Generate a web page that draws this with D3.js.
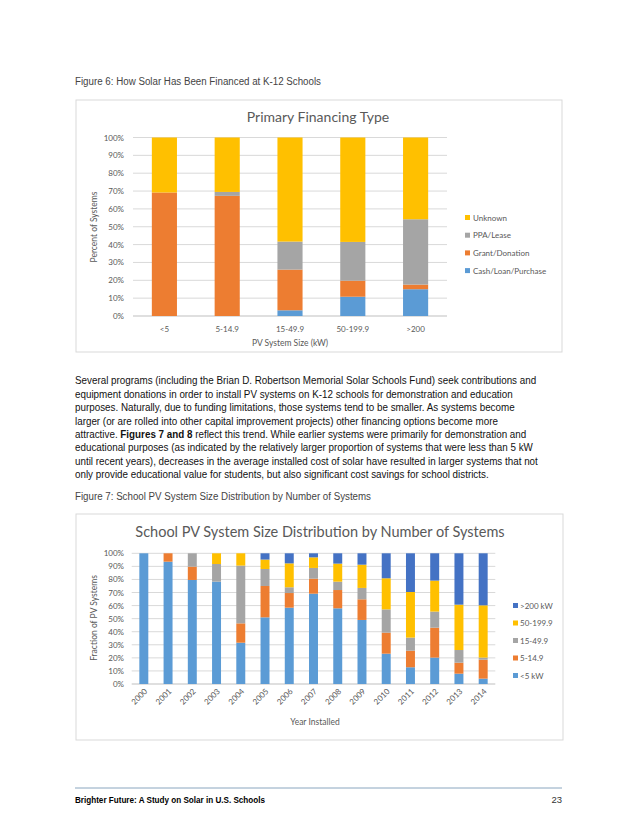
<!DOCTYPE html>
<html><head><meta charset="utf-8">
<script src="https://cdn.jsdelivr.net/npm/d3@7"></script>
<style>body{margin:0;background:#fff}svg{display:block}</style>
</head><body><svg id="page" width="638" height="826"></svg>
<script>
// ---- Figure 6 data ----
const sizeCats = ["<5","5-14.9","15-49.9","50-199.9",">200"];
const finSeries = ["Cash/Loan/Purchase","Grant/Donation","PPA/Lease","Unknown"];
const cashVals = [0, 0, 3.2, 10.8, 15.0];
const grantVals = [69.2, 67.3, 22.8, 9.0, 2.6];
const ppaVals = [0, 2.2, 15.7, 21.7, 36.6];
const unknownVals = [30.8, 30.5, 58.3, 58.5, 45.8];
const pctTicks = [0,10,20,30,40,50,60,70,80,90,100];

// ---- Figure 7 data ----
const years = ["2000","2001","2002","2003","2004","2005","2006","2007","2008","2009","2010","2011","2012","2013","2014"];
const sizeSeries = ["<5 kW","5-14.9","15-49.9","50-199.9",">200 kW"];
const lt5 = [100, 93.6, 79.6, 78.3, 31.6, 51.0, 58.4, 69.1, 57.9, 49.0, 23.2, 12.8, 20.2, 7.9, 4.1];
const s5to15 = [0, 6.4, 10.2, 0, 14.8, 24.0, 11.2, 11.5, 14.0, 15.8, 16.1, 12.7, 22.9, 8.4, 14.5];
const s15to50 = [0, 0, 10.2, 13.5, 44.2, 13.0, 4.4, 8.2, 6.4, 8.7, 17.8, 10.0, 12.3, 9.7, 1.6];
const s50to200 = [0, 0, 0, 8.2, 9.4, 7.2, 18.3, 8.1, 13.8, 17.8, 23.8, 34.9, 23.7, 34.7, 40.0];
const gt200 = [0, 0, 0, 0, 0, 4.8, 7.7, 3.1, 7.9, 8.7, 19.1, 29.6, 20.9, 39.3, 39.8];

const bodyLines = [
 "Several programs (including the Brian D. Robertson Memorial Solar Schools Fund) seek contributions and",
 "equipment donations in order to install PV systems on K-12 schools for demonstration and education",
 "purposes. Naturally, due to funding limitations, those systems tend to be smaller. As systems become",
 "larger (or are rolled into other capital improvement projects) other financing options become more",
 null,
 "educational purposes (as indicated by the relatively larger proportion of systems that were less than 5 kW",
 "until recent years), decreases in the average installed cost of solar have resulted in larger systems that not",
 "only provide educational value for students, but also significant cost savings for school districts."
];

const C = {blue:"#5B9BD5", orange:"#ED7D31", gray:"#A5A5A5", yellow:"#FFC000", dblue:"#4472C4"};
const svg = d3.select("#page");
const chartFont = "Lato, 'Open Sans', sans-serif";
const bodyFont = "'Liberation Sans', Arial, sans-serif";
const textCol = "#595959";

// captions
svg.append("text").attr("x",75).attr("y",85).attr("font-family",bodyFont).attr("font-size",10)
  .attr("fill","#444").attr("textLength",246).attr("lengthAdjust","spacingAndGlyphs")
  .text("Figure 6: How Solar Has Been Financed at K-12 Schools");
svg.append("text").attr("x",75).attr("y",500).attr("font-family",bodyFont).attr("font-size",10)
  .attr("fill","#444").attr("textLength",296).attr("lengthAdjust","spacingAndGlyphs")
  .text("Figure 7: School PV System Size Distribution by Number of Systems");

// body text: uniform horizontal scale so the first line spans ~462px
const body = svg.append("g");
const bodyTexts = [];
bodyLines.forEach((l,i)=>{
  const t = body.append("text").attr("x",0).attr("y",384.5+i*13.4).attr("font-family",bodyFont)
    .attr("font-size",10).attr("fill","#111");
  if(l===null){
    t.append("tspan").text("attractive.  ");
    t.append("tspan").attr("font-weight","bold").text("Figures 7 and 8");
    t.append("tspan").text(" reflect this trend. While earlier systems were primarily for demonstration and");
  } else t.text(l);
  bodyTexts.push(t);
});
const w0 = bodyTexts[0].node().getComputedTextLength();
const sx = w0 > 0 ? 462 / w0 : 1;
body.attr("transform",`translate(75,0) scale(${sx},1)`);

// ---------- Chart 1 ----------
svg.append("rect").attr("x",76).attr("y",100).attr("width",486).attr("height",252)
  .attr("fill","#fff").attr("stroke","#d9d9d9");
const x1 = d3.scaleBand().domain(sizeCats).range([133,447]).paddingInner(0.6).paddingOuter(0.3);
const y1 = d3.scaleLinear().domain([0,100]).range([316,137.5]);
const g1 = svg.append("g");
g1.selectAll("line.grid").data(pctTicks).join("line")
  .attr("x1",133).attr("x2",447).attr("y1",d=>y1(d)).attr("y2",d=>y1(d))
  .attr("stroke",d=>d===0?"#bfbfbf":"#d9d9d9").attr("stroke-width",1);
g1.selectAll("text.yt").data(pctTicks).join("text")
  .attr("x",124).attr("y",d=>y1(d)+3).attr("text-anchor","end").attr("font-family",chartFont)
  .attr("font-size",8).attr("fill",textCol).text(d=>d+"%");
const stack1 = d3.stack().keys(finSeries)(sizeCats.map((c,i)=>({cat:c,
  "Cash/Loan/Purchase":cashVals[i],"Grant/Donation":grantVals[i],"PPA/Lease":ppaVals[i],"Unknown":unknownVals[i]})));
const col1 = [C.blue,C.orange,C.gray,C.yellow];
stack1.forEach((s,si)=>{
  g1.selectAll(null).data(s).join("rect")
    .attr("x",d=>x1(d.data.cat)).attr("width",x1.bandwidth())
    .attr("y",d=>y1(d[1])).attr("height",d=>Math.max(0,y1(d[0])-y1(d[1])))
    .attr("fill",col1[si]);
});
g1.selectAll("text.xt").data(sizeCats).join("text")
  .attr("x",d=>x1(d)+x1.bandwidth()/2).attr("y",332).attr("text-anchor","middle")
  .attr("font-family",chartFont).attr("font-size",8).attr("fill",textCol).text(d=>d);
g1.append("text").attr("x",290).attr("y",346).attr("text-anchor","middle").attr("font-family",chartFont)
  .attr("font-size",8.5).attr("fill",textCol).text("PV System Size (kW)");
g1.append("text").attr("transform","translate(97,227) rotate(-90)").attr("text-anchor","middle")
  .attr("font-family",chartFont).attr("font-size",8.5).attr("fill",textCol).text("Percent of Systems");
g1.append("text").attr("x",318).attr("y",122).attr("text-anchor","middle").attr("font-family",chartFont)
  .attr("font-size",14).attr("fill",textCol).text("Primary Financing Type");
const leg1 = finSeries.slice().reverse();
const legCol1 = col1.slice().reverse();
leg1.forEach((s,i)=>{
  const yy = 218 + i*17.7;
  g1.append("rect").attr("x",465).attr("y",yy-3).attr("width",5).attr("height",5).attr("fill",legCol1[i]);
  g1.append("text").attr("x",473).attr("y",yy+2.5).attr("font-family",chartFont).attr("font-size",8)
    .attr("fill",textCol).text(s);
});

// ---------- Chart 2 ----------
svg.append("rect").attr("x",76).attr("y",514).attr("width",487).attr("height",226)
  .attr("fill","#fff").attr("stroke","#d9d9d9");
const x2 = d3.scaleBand().domain(years).range([131.7,495.3]).paddingInner(0.63).paddingOuter(0.315);
const y2 = d3.scaleLinear().domain([0,100]).range([684,553.3]);
const g2 = svg.append("g");
g2.selectAll("line.grid").data(pctTicks).join("line")
  .attr("x1",131.7).attr("x2",495.3).attr("y1",d=>y2(d)).attr("y2",d=>y2(d))
  .attr("stroke",d=>d===0?"#bfbfbf":"#d9d9d9").attr("stroke-width",1);
g2.selectAll("text.yt").data(pctTicks).join("text")
  .attr("x",124).attr("y",d=>y2(d)+3).attr("text-anchor","end").attr("font-family",chartFont)
  .attr("font-size",8).attr("fill",textCol).text(d=>d+"%");
const stack2 = d3.stack().keys(sizeSeries)(years.map((yr,i)=>({yr,
  "<5 kW":lt5[i],"5-14.9":s5to15[i],"15-49.9":s15to50[i],"50-199.9":s50to200[i],">200 kW":gt200[i]})));
const col2 = [C.blue,C.orange,C.gray,C.yellow,C.dblue];
stack2.forEach((s,si)=>{
  g2.selectAll(null).data(s).join("rect")
    .attr("x",d=>x2(d.data.yr)).attr("width",x2.bandwidth())
    .attr("y",d=>y2(d[1])).attr("height",d=>Math.max(0,y2(d[0])-y2(d[1])))
    .attr("fill",col2[si]);
});
g2.selectAll("text.xt").data(years).join("text")
  .attr("transform",d=>`translate(${x2(d)+x2.bandwidth()/2+4},${692}) rotate(-45)`)
  .attr("text-anchor","end").attr("font-family",chartFont).attr("font-size",8).attr("fill",textCol).text(d=>d);
g2.append("text").attr("x",315).attr("y",725).attr("text-anchor","middle").attr("font-family",chartFont)
  .attr("font-size",8.5).attr("fill",textCol).text("Year Installed");
g2.append("text").attr("transform","translate(97,618) rotate(-90)").attr("text-anchor","middle")
  .attr("font-family",chartFont).attr("font-size",8.5).attr("fill",textCol).text("Fraction of PV Systems");
g2.append("text").attr("x",320).attr("y",537).attr("text-anchor","middle").attr("font-family",chartFont)
  .attr("font-size",14.5).attr("fill",textCol).text("School PV System Size Distribution by Number of Systems");
const leg2 = sizeSeries.slice().reverse();
const legCol2 = col2.slice().reverse();
leg2.forEach((s,i)=>{
  const yy = 606 + i*17.5;
  g2.append("rect").attr("x",513).attr("y",yy-3).attr("width",5).attr("height",5).attr("fill",legCol2[i]);
  g2.append("text").attr("x",520).attr("y",yy+2.5).attr("font-family",chartFont).attr("font-size",8)
    .attr("fill",textCol).text(s);
});

// footer
svg.append("line").attr("x1",75).attr("x2",562).attr("y1",788).attr("y2",788).attr("stroke","#8aa6bf").attr("stroke-width",1);
svg.append("text").attr("x",75).attr("y",803).attr("font-family",bodyFont).attr("font-size",9.5)
  .attr("font-weight","bold").attr("fill","#000").attr("textLength",190).attr("lengthAdjust","spacingAndGlyphs")
  .text("Brighter Future: A Study on Solar in U.S. Schools");
svg.append("text").attr("x",562).attr("y",803).attr("text-anchor","end").attr("font-family",bodyFont)
  .attr("font-size",9.5).attr("fill","#333").text("23");
</script></body></html>
